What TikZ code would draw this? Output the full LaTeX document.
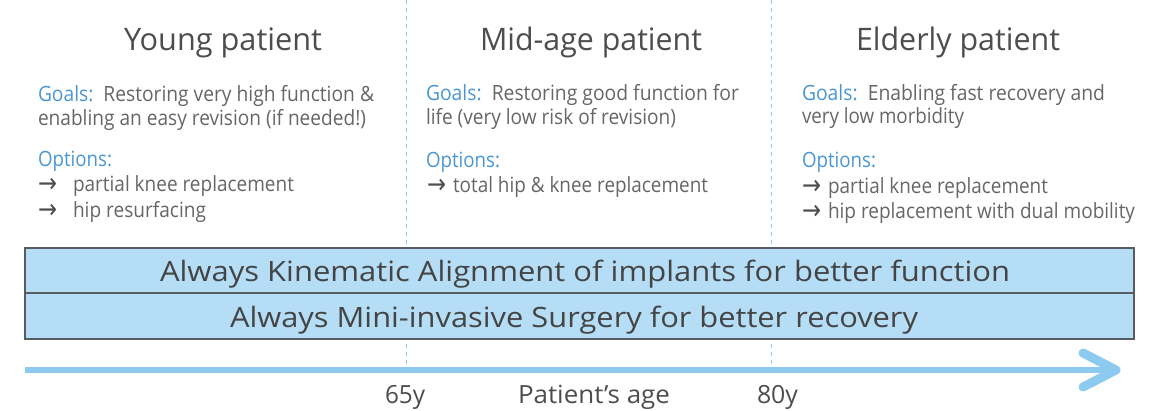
\documentclass[tikz,border=0pt]{standalone}
\usepackage{fontspec}
\setmainfont{Open Sans}
\newfontfamily\arrfont{DejaVu Sans}
\usepackage{graphicx}
\definecolor{titlegray}{HTML}{4D4D4D}
\definecolor{bodygray}{HTML}{666666}
\definecolor{goalblue}{HTML}{4A96D2}
\definecolor{bandfill}{HTML}{B5DEF6}
\definecolor{bandline}{HTML}{555D62}
\definecolor{arrowblue}{HTML}{8CCBEF}
\definecolor{dashblue}{HTML}{94C9EC}
\definecolor{bandtext}{HTML}{444444}
\newcommand\fw[2]{\resizebox{#1pt}{\height}{#2}}
\newcommand\gl{\textcolor{goalblue}}
\tikzset{
  lbl/.style={anchor=base west, inner sep=0pt, outer sep=0pt, text=bodygray, font=\fontsize{21}{21}\selectfont},
  ttl/.style={anchor=base west, inner sep=0pt, outer sep=0pt, text=titlegray, font=\fontsize{31}{31}\selectfont},
  axl/.style={anchor=base west, inner sep=0pt, outer sep=0pt, text=titlegray, font=\fontsize{25}{25}\selectfont},
  bandtxt/.style={anchor=base west, inner sep=0pt, outer sep=0pt, text=bandtext, font=\fontsize{28}{28}\selectfont},
  arr/.style={anchor=base west, inner sep=0pt, outer sep=0pt, text=titlegray, font=\arrfont\fontsize{27}{27}\selectfont},
  band/.style={draw=bandline, line width=1.1pt, fill=bandfill},
  divider/.style={dashblue, line width=1pt, dash pattern=on 4pt off 4pt},
}
\begin{document}
\begin{tikzpicture}[x=1pt,y=-1pt]
\useasboundingbox (0,0) rectangle (1157,410);
% dashed dividers
\coordinate (d1t) at (406,0); \coordinate (d1b) at (406,370);
\coordinate (d2t) at (771,0); \coordinate (d2b) at (771,370);
\draw[divider] (d1t) -- (d1b);
\draw[divider] (d2t) -- (d2b);
% titles
\node[ttl] (t1) at (124,50) {\fw{198}{Young patient}};
\node[ttl] (t2) at (480,50) {\fw{222}{Mid-age patient}};
\node[ttl] (t3) at (856,50) {\fw{204}{Elderly patient}};
% left column
\node[lbl] (g1a) at (38,101) {\fw{336}{\gl{Goals:}\ \ Restoring very high function \&}};
\node[lbl] (g1b) at (38,125) {\fw{328}{enabling an easy revision (if needed!)}};
\node[lbl] (o1) at (38,166) {\fw{74}{\gl{Options:}}};
\node[arr] (a1a) at (38,192) {\fw{19}{→}};
\node[lbl] (o1a) at (73,191) {\fw{221}{partial knee replacement}};
\node[arr] (a1b) at (38,218) {\fw{19}{→}};
\node[lbl] (o1b) at (73,217) {\fw{133}{hip resurfacing}};
% middle column
\node[lbl] (g2a) at (426,100) {\fw{313}{\gl{Goals:}\ \ Restoring good function for}};
\node[lbl] (g2b) at (426,124) {\fw{250}{life (very low risk of revision)}};
\node[lbl] (o2) at (426,167) {\fw{74}{\gl{Options:}}};
\node[arr] (a2a) at (427,193) {\fw{19}{→}};
\node[lbl] (o2a) at (453,192) {\fw{255}{total hip \& knee replacement}};
% right column
\node[lbl] (g3a) at (802,100) {\fw{303}{\gl{Goals:}\ \ Enabling fast recovery and}};
\node[lbl] (g3b) at (802,123) {\fw{162}{very low morbidity}};
\node[lbl] (o3) at (802,167) {\fw{74}{\gl{Options:}}};
\node[arr] (a3a) at (802,194) {\fw{19}{→}};
\node[lbl] (o3a) at (828,193) {\fw{220}{partial knee replacement}};
\node[arr] (a3b) at (802,219) {\fw{19}{→}};
\node[lbl] (o3b) at (828,218) {\fw{307}{hip replacement with dual mobility}};
% bands
\coordinate (b1nw) at (25,248); \coordinate (b1se) at (1134,293);
\coordinate (b2nw) at (25,293); \coordinate (b2se) at (1134,339);
\draw[band] (b1nw) rectangle (b1se);
\draw[band] (b2nw) rectangle (b2se);
\node[bandtxt] (k1) at (160,281) {\fw{850}{Always Kinematic Alignment of implants for better function}};
\node[bandtxt] (k2) at (230,327) {\fw{688}{Always Mini-invasive Surgery for better recovery}};
% axis arrow
\coordinate (ax0) at (25,370);
\coordinate (axtip) at (1116,370);
\coordinate (axu) at (1083,353);
\coordinate (axd) at (1083,387);
\draw[arrowblue, line width=6pt] (ax0) -- (axtip);
\draw[arrowblue, line width=9pt, line cap=round, line join=round] (axu) -- (axtip) -- (axd);
% axis labels
\node[axl] (l65) at (385,403) {\fw{40}{65y}};
\node[axl] (lage) at (518,403) {\fw{152}{Patient’s age}};
\node[axl] (l80) at (757,403) {\fw{41}{80y}};
\end{tikzpicture}
\end{document}
